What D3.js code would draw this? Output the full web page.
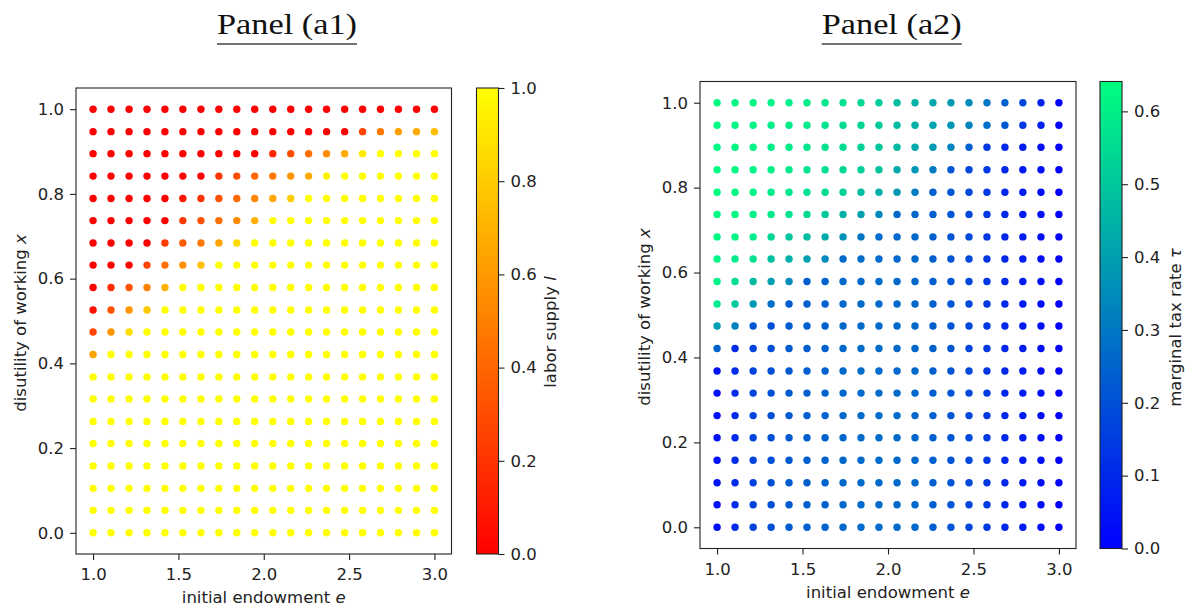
<!DOCTYPE html>
<html>
<head>
<meta charset="utf-8">
<script src="https://cdn.jsdelivr.net/npm/d3@7"></script>
<style>
  body { margin: 0; background: #fff; }
  svg { display: block; }
</style>
</head>
<body>
<svg id="chart" width="1191" height="610"></svg>
<script>
// grid of the two panels: initial endowment e (columns) and disutility x (rows, top to bottom)
var endowment = [1.000, 1.105, 1.211, 1.316, 1.421, 1.526, 1.632, 1.737, 1.842, 1.947,
                 2.053, 2.158, 2.263, 2.368, 2.474, 2.579, 2.684, 2.789, 2.895, 3.000];
var disutility = [1.000, 0.947, 0.895, 0.842, 0.789, 0.737, 0.684, 0.632, 0.579, 0.526,
                  0.474, 0.421, 0.368, 0.316, 0.263, 0.211, 0.158, 0.105, 0.053, 0.000];

// panel (a1): labor supply l, one row per disutility value
var laborSupply = [
  [0, 0, 0, 0, 0, 0, 0, 0, 0, 0, 0, 0, 0, 0, 0, 0, 0, 0, 0, 0],
  [0, 0, 0, 0, 0, 0, 0, 0, 0, 0, 0, 0, 0, 0, 0, 0.27, 0.47, 0.63, 0.67, 0.75],
  [0, 0, 0, 0, 0, 0, 0, 0, 0, 0, 0.15, 0.30, 0.43, 0.55, 0.67, 0.92, 1, 1, 1, 1],
  [0, 0, 0, 0, 0, 0, 0, 0.20, 0.30, 0.40, 0.47, 0.58, 0.67, 0.95, 1, 1, 1, 1, 1, 1],
  [0, 0, 0, 0, 0, 0.08, 0.20, 0.32, 0.42, 0.52, 0.65, 0.80, 1, 1, 1, 1, 1, 1, 1, 1],
  [0, 0, 0, 0, 0, 0.22, 0.32, 0.43, 0.55, 0.69, 1, 1, 1, 1, 1, 1, 1, 1, 1, 1],
  [0, 0, 0, 0, 0.23, 0.35, 0.47, 0.63, 0.85, 1, 1, 1, 1, 1, 1, 1, 1, 1, 1, 1],
  [0, 0, 0, 0.27, 0.43, 0.57, 0.75, 1, 1, 1, 1, 1, 1, 1, 1, 1, 1, 1, 1, 1],
  [0, 0.18, 0.33, 0.51, 0.70, 1, 1, 1, 1, 1, 1, 1, 1, 1, 1, 1, 1, 1, 1, 1],
  [0.06, 0.32, 0.59, 0.78, 1, 1, 1, 1, 1, 1, 1, 1, 1, 1, 1, 1, 1, 1, 1, 1],
  [0.27, 0.59, 0.88, 1, 1, 1, 1, 1, 1, 1, 1, 1, 1, 1, 1, 1, 1, 1, 1, 1],
  [0.63, 1, 1, 1, 1, 1, 1, 1, 1, 1, 1, 1, 1, 1, 1, 1, 1, 1, 1, 1],
  [1, 1, 1, 1, 1, 1, 1, 1, 1, 1, 1, 1, 1, 1, 1, 1, 1, 1, 1, 1],
  [1, 1, 1, 1, 1, 1, 1, 1, 1, 1, 1, 1, 1, 1, 1, 1, 1, 1, 1, 1],
  [1, 1, 1, 1, 1, 1, 1, 1, 1, 1, 1, 1, 1, 1, 1, 1, 1, 1, 1, 1],
  [1, 1, 1, 1, 1, 1, 1, 1, 1, 1, 1, 1, 1, 1, 1, 1, 1, 1, 1, 1],
  [1, 1, 1, 1, 1, 1, 1, 1, 1, 1, 1, 1, 1, 1, 1, 1, 1, 1, 1, 1],
  [1, 1, 1, 1, 1, 1, 1, 1, 1, 1, 1, 1, 1, 1, 1, 1, 1, 1, 1, 1],
  [1, 1, 1, 1, 1, 1, 1, 1, 1, 1, 1, 1, 1, 1, 1, 1, 1, 1, 1, 1],
  [1, 1, 1, 1, 1, 1, 1, 1, 1, 1, 1, 1, 1, 1, 1, 1, 1, 1, 1, 1]
];

// panel (a2): marginal tax rate tau
var taxRate = [
  [0.63, 0.62, 0.615, 0.61, 0.60, 0.59, 0.58, 0.565, 0.54, 0.51, 0.48, 0.45, 0.42, 0.385, 0.345, 0.30, 0.245, 0.175, 0.095, 0.0],
  [0.63, 0.62, 0.61, 0.605, 0.595, 0.585, 0.57, 0.555, 0.535, 0.505, 0.475, 0.445, 0.41, 0.375, 0.33, 0.28, 0.22, 0.14, 0.08, 0.0],
  [0.63, 0.62, 0.61, 0.60, 0.59, 0.58, 0.565, 0.55, 0.525, 0.50, 0.465, 0.43, 0.39, 0.33, 0.25, 0.14, 0.10, 0.065, 0.035, 0.0],
  [0.63, 0.62, 0.61, 0.60, 0.585, 0.57, 0.56, 0.54, 0.515, 0.49, 0.43, 0.38, 0.31, 0.215, 0.18, 0.14, 0.10, 0.065, 0.035, 0.0],
  [0.63, 0.62, 0.61, 0.595, 0.58, 0.565, 0.545, 0.52, 0.48, 0.44, 0.38, 0.31, 0.24, 0.215, 0.18, 0.14, 0.10, 0.065, 0.035, 0.0],
  [0.63, 0.62, 0.605, 0.59, 0.575, 0.54, 0.50, 0.45, 0.40, 0.34, 0.265, 0.26, 0.24, 0.215, 0.18, 0.14, 0.10, 0.065, 0.035, 0.0],
  [0.625, 0.615, 0.59, 0.54, 0.50, 0.475, 0.43, 0.365, 0.30, 0.27, 0.265, 0.26, 0.24, 0.215, 0.18, 0.14, 0.10, 0.065, 0.035, 0.0],
  [0.615, 0.59, 0.565, 0.48, 0.44, 0.40, 0.35, 0.26, 0.27, 0.27, 0.265, 0.26, 0.24, 0.215, 0.18, 0.14, 0.10, 0.065, 0.035, 0.0],
  [0.61, 0.55, 0.465, 0.40, 0.35, 0.24, 0.25, 0.26, 0.27, 0.27, 0.265, 0.26, 0.24, 0.215, 0.18, 0.14, 0.10, 0.065, 0.035, 0.0],
  [0.59, 0.50, 0.38, 0.28, 0.23, 0.24, 0.25, 0.26, 0.27, 0.27, 0.265, 0.26, 0.24, 0.215, 0.18, 0.14, 0.10, 0.065, 0.035, 0.0],
  [0.40, 0.33, 0.22, 0.20, 0.23, 0.24, 0.25, 0.26, 0.27, 0.27, 0.265, 0.26, 0.24, 0.215, 0.18, 0.14, 0.10, 0.065, 0.035, 0.0],
  [0.25, 0.11, 0.17, 0.20, 0.23, 0.24, 0.25, 0.26, 0.27, 0.27, 0.265, 0.26, 0.24, 0.215, 0.18, 0.14, 0.10, 0.065, 0.035, 0.0],
  [0.04, 0.11, 0.17, 0.20, 0.23, 0.24, 0.25, 0.26, 0.27, 0.27, 0.265, 0.26, 0.24, 0.215, 0.18, 0.14, 0.10, 0.065, 0.035, 0.0],
  [0.04, 0.11, 0.17, 0.20, 0.23, 0.24, 0.25, 0.26, 0.27, 0.27, 0.265, 0.26, 0.24, 0.215, 0.18, 0.14, 0.10, 0.065, 0.035, 0.0],
  [0.04, 0.11, 0.17, 0.20, 0.23, 0.24, 0.25, 0.26, 0.27, 0.27, 0.265, 0.26, 0.24, 0.215, 0.18, 0.14, 0.10, 0.065, 0.035, 0.0],
  [0.04, 0.11, 0.17, 0.20, 0.23, 0.24, 0.25, 0.26, 0.27, 0.27, 0.265, 0.26, 0.24, 0.215, 0.18, 0.14, 0.10, 0.065, 0.035, 0.0],
  [0.04, 0.11, 0.17, 0.20, 0.23, 0.24, 0.25, 0.26, 0.27, 0.27, 0.265, 0.26, 0.24, 0.215, 0.18, 0.14, 0.10, 0.065, 0.035, 0.0],
  [0.04, 0.11, 0.17, 0.20, 0.23, 0.24, 0.25, 0.26, 0.27, 0.27, 0.265, 0.26, 0.24, 0.215, 0.18, 0.14, 0.10, 0.065, 0.035, 0.0],
  [0.04, 0.11, 0.17, 0.20, 0.23, 0.24, 0.25, 0.26, 0.27, 0.27, 0.265, 0.26, 0.24, 0.215, 0.18, 0.14, 0.10, 0.065, 0.035, 0.0],
  [0.04, 0.11, 0.17, 0.20, 0.23, 0.24, 0.25, 0.26, 0.27, 0.27, 0.265, 0.26, 0.24, 0.215, 0.18, 0.14, 0.10, 0.065, 0.035, 0.0]
];

var xTicks = [1.0, 1.5, 2.0, 2.5, 3.0];
var yTicks = [0.0, 0.2, 0.4, 0.6, 0.8, 1.0];
var laborTicks = [0.0, 0.2, 0.4, 0.6, 0.8, 1.0];
var taxTicks = [0.0, 0.1, 0.2, 0.3, 0.4, 0.5, 0.6];

var svg = d3.select("#chart");
var defs = svg.append("defs");
var FONT = "'DejaVu Sans', sans-serif";
var FS = 16.5;
var fmt = d3.format(".1f");

function drawPanel(p) {
    var x = d3.scaleLinear().domain([0.9, 3.1]).range([p.left, p.right]);
    var y = d3.scaleLinear().domain([-0.05, 1.05]).range([p.bottom, p.top]);
    var color = d3.scaleSequential(d3.interpolateRgb(p.c0, p.c1)).domain([0, p.vmax]);

    // title with underline
    var title = svg.append("text")
        .attr("x", p.titleX).attr("y", 33.5)
        .attr("font-family", "'Liberation Serif', serif")
        .attr("font-size", 30)
        .attr("textLength", 140).attr("lengthAdjust", "spacingAndGlyphs")
        .attr("fill", "#111")
        .text(p.title);
    svg.append("line")
        .attr("x1", p.titleX).attr("x2", p.titleX + 140)
        .attr("y1", 44).attr("y2", 44)
        .attr("stroke", "#444").attr("stroke-width", 1.6);

    // points
    var cells = [];
    p.values.forEach(function (row, i) {
        row.forEach(function (v, j) {
            cells.push({e: endowment[j], x: disutility[i], v: v});
        });
    });
    svg.append("g").selectAll("circle").data(cells)
        .enter().append("circle")
        .attr("cx", function (d) { return x(d.e); })
        .attr("cy", function (d) { return y(d.x); })
        .attr("r", 3.7)
        .attr("fill", function (d) { return color(d.v); });

    // axes
    var gx = svg.append("g")
        .attr("transform", "translate(0," + p.bottom + ")")
        .call(d3.axisBottom(x).tickValues(xTicks).tickFormat(fmt).tickSize(6).tickPadding(8.3));
    var gy = svg.append("g")
        .attr("transform", "translate(" + p.left + ",0)")
        .call(d3.axisLeft(y).tickValues(yTicks).tickFormat(fmt).tickSize(6).tickPadding(6));
    [gx, gy].forEach(function (g) {
        g.select(".domain").remove();
        g.attr("font-family", FONT).attr("font-size", FS);
        g.selectAll("line").attr("stroke", "#222").attr("stroke-width", 1.1);
        g.selectAll("text").attr("fill", "#222");
    });

    svg.append("rect")
        .attr("x", p.left).attr("y", p.top)
        .attr("width", p.right - p.left).attr("height", p.bottom - p.top)
        .attr("fill", "none").attr("stroke", "#222").attr("stroke-width", 1.1);

    // axis labels
    var xl = svg.append("text")
        .attr("x", (p.left + p.right) / 2).attr("y", p.bottom + 49)
        .attr("text-anchor", "middle")
        .attr("font-family", FONT).attr("font-size", FS).attr("fill", "#222");
    xl.append("tspan").text("initial endowment ");
    xl.append("tspan").attr("font-style", "italic").text("e");

    var yl = svg.append("text")
        .attr("transform", "translate(" + p.ylabelX + "," + p.ylabelY + ") rotate(-90)")
        .attr("text-anchor", "middle")
        .attr("font-family", FONT).attr("font-size", FS).attr("fill", "#222");
    yl.append("tspan").text("disutility of working ");
    yl.append("tspan").attr("font-style", "italic").text("x");

    // colorbar
    var cb = d3.scaleLinear().domain([0, p.vmax]).range([p.bottom, p.top]);
    var grad = defs.append("linearGradient")
        .attr("id", p.id + "grad")
        .attr("x1", 0).attr("y1", 1).attr("x2", 0).attr("y2", 0);
    grad.append("stop").attr("offset", 0).attr("stop-color", p.c0);
    grad.append("stop").attr("offset", 1).attr("stop-color", p.c1);
    svg.append("rect")
        .attr("x", p.cbLeft).attr("y", p.top)
        .attr("width", p.cbWidth).attr("height", p.bottom - p.top)
        .attr("fill", "url(#" + p.id + "grad)")
        .attr("stroke", "#222").attr("stroke-width", 1.1);
    var gc = svg.append("g")
        .attr("transform", "translate(" + (p.cbLeft + p.cbWidth) + ",0)")
        .call(d3.axisRight(cb).tickValues(p.cbTicks).tickFormat(fmt).tickSize(6).tickPadding(6));
    gc.select(".domain").remove();
    gc.attr("font-family", FONT).attr("font-size", FS);
    gc.selectAll("line").attr("stroke", "#222").attr("stroke-width", 1.1);
    gc.selectAll("text").attr("fill", "#222");

    var cl = svg.append("text")
        .attr("transform", "translate(" + p.cbLabelX + "," + p.cbLabelY + ") rotate(-90)")
        .attr("text-anchor", "middle")
        .attr("font-family", FONT).attr("font-size", FS).attr("fill", "#222");
    cl.append("tspan").text(p.cbLabel);
    cl.append("tspan").attr("font-style", "italic").text(p.cbSymbol);
}

drawPanel({
    id: "a1", title: "Panel (a1)", titleX: 217,
    left: 76, right: 451.5, top: 88, bottom: 554,
    values: laborSupply, vmax: 1.0, c0: "rgb(255,0,0)", c1: "rgb(255,255,0)",
    cbLeft: 476.5, cbWidth: 22, cbTicks: laborTicks,
    cbLabel: "labor supply ", cbSymbol: "l", cbLabelX: 556, cbLabelY: 332,
    ylabelX: 26, ylabelY: 323
});

drawPanel({
    id: "a2", title: "Panel (a2)", titleX: 821.7,
    left: 700, right: 1076, top: 81.5, bottom: 548.5,
    values: taxRate, vmax: 0.641, c0: "rgb(0,0,255)", c1: "rgb(0,255,128)",
    cbLeft: 1100, cbWidth: 22, cbTicks: taxTicks,
    cbLabel: "marginal tax rate ", cbSymbol: "τ", cbLabelX: 1181, cbLabelY: 327.5,
    ylabelX: 650, ylabelY: 317
});
</script>
</body>
</html>
